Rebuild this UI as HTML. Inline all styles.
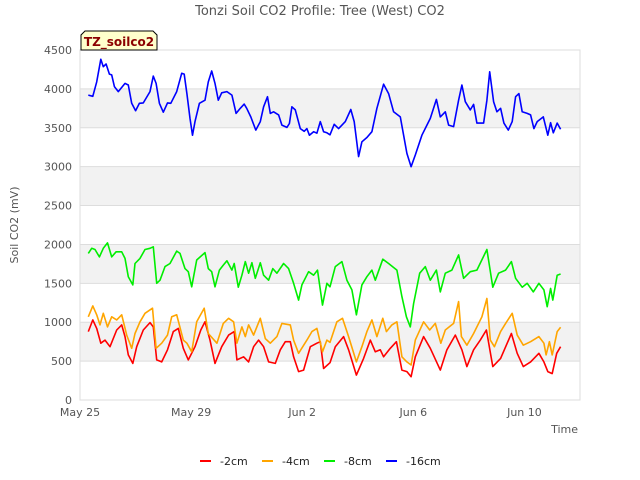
<!DOCTYPE html>
<html><head><meta charset="utf-8"><style>
body{margin:0;background:#fff;}
svg{display:block;font-family:"DejaVu Sans","Liberation Sans",sans-serif;}
</style></head><body>
<svg id="chart" width="640" height="480">
<text x="320" y="15" text-anchor="middle" font-size="13" fill="#555">Tonzi Soil CO2 Profile: Tree (West) CO2</text>
<g id="bands"></g>
<g id="yticks"></g>
<g id="xticks"></g>
<rect x="80" y="50" width="500" height="350" fill="none" stroke="#ddd"/>
<g id="series"></g>
<text transform="translate(18,225) rotate(-90)" text-anchor="middle" font-size="11" fill="#555">Soil CO2 (mV)</text>
<text x="578" y="433" text-anchor="end" font-size="11" fill="#555">Time</text>
<g>
<path d="M85,31 L153,31 L157,35 L157,50 L81,50 L81,35 Z" fill="#ffffcc" stroke="#000" stroke-width="1"/>
<text x="119" y="46" text-anchor="middle" font-size="12" font-weight="bold" fill="#8b0000">TZ_soilco2</text>
</g>
<g id="legend"></g>
</svg>
<script>
const yTicks=[0,500,1000,1500,2000,2500,3000,3500,4000,4500];
const xTickDays=[0,4,8,12,16];
const xTickLabels=["May 25","May 29","Jun 2","Jun 6","Jun 10"];
const seriesNames=["-2cm","-4cm","-8cm","-16cm"];
const seriesColors=["#ff0000","#ffa500","#00ee00","#0000ff"];
const blueDays=[0.3,0.46,0.6,0.75,0.84,0.94,1.06,1.14,1.24,1.38,1.62,1.74,1.86,2.0,2.14,2.28,2.52,2.64,2.74,2.86,3.0,3.15,3.27,3.48,3.66,3.75,3.85,3.96,4.05,4.14,4.3,4.5,4.62,4.74,4.86,4.98,5.1,5.29,5.47,5.62,5.77,5.91,6.0,6.15,6.33,6.49,6.61,6.75,6.85,6.97,7.15,7.27,7.45,7.54,7.63,7.75,7.93,8.07,8.17,8.26,8.41,8.53,8.65,8.77,8.89,9.0,9.15,9.31,9.55,9.75,9.87,10.03,10.15,10.33,10.51,10.69,10.93,11.11,11.29,11.53,11.77,11.92,12.07,12.31,12.61,12.83,12.97,13.15,13.27,13.45,13.63,13.75,13.87,14.05,14.17,14.29,14.53,14.65,14.75,14.89,15.01,15.14,15.26,15.42,15.56,15.68,15.8,15.92,16.1,16.22,16.34,16.46,16.68,16.84,16.94,17.04,17.18,17.3];
const blueVals=[3920,3905,4090,4380,4285,4320,4190,4180,4030,3965,4070,4050,3815,3720,3815,3820,3965,4165,4070,3815,3700,3820,3815,3965,4200,4190,3940,3620,3405,3580,3815,3855,4090,4230,4070,3855,3950,3965,3920,3685,3750,3805,3750,3640,3470,3580,3770,3900,3685,3705,3665,3535,3505,3555,3770,3730,3490,3455,3490,3405,3450,3430,3580,3450,3435,3410,3545,3490,3580,3735,3580,3130,3320,3375,3450,3750,4060,3940,3705,3640,3170,3000,3150,3405,3620,3865,3640,3705,3535,3515,3855,4050,3835,3730,3800,3560,3560,3855,4220,3835,3705,3750,3560,3470,3580,3900,3940,3705,3685,3665,3490,3580,3640,3405,3565,3435,3560,3480];
const greenDays=[0.3,0.42,0.54,0.7,0.84,0.99,1.14,1.3,1.5,1.62,1.74,1.9,1.98,2.16,2.34,2.52,2.64,2.76,2.88,3.06,3.24,3.48,3.6,3.78,3.9,4.02,4.2,4.5,4.62,4.74,4.86,5.02,5.16,5.29,5.47,5.55,5.7,5.83,5.95,6.07,6.19,6.31,6.49,6.61,6.79,6.94,7.09,7.33,7.51,7.69,7.87,7.99,8.23,8.41,8.55,8.73,8.89,9.0,9.19,9.43,9.61,9.79,9.95,10.15,10.33,10.51,10.63,10.9,11.11,11.41,11.59,11.75,11.89,12.01,12.23,12.43,12.61,12.83,12.97,13.15,13.39,13.63,13.81,14.05,14.29,14.65,14.86,15.07,15.32,15.53,15.68,15.92,16.1,16.32,16.52,16.7,16.82,16.94,17.02,17.18,17.3];
const greenVals=[1885,1950,1935,1840,1950,2020,1840,1905,1905,1820,1585,1480,1755,1820,1935,1950,1970,1500,1540,1715,1755,1915,1885,1690,1650,1455,1800,1895,1690,1650,1455,1670,1735,1790,1670,1755,1450,1605,1780,1630,1765,1565,1765,1605,1540,1690,1630,1755,1690,1500,1285,1480,1650,1605,1670,1220,1500,1455,1715,1780,1540,1415,1095,1480,1585,1670,1540,1810,1755,1670,1330,1070,940,1240,1630,1715,1540,1670,1390,1630,1670,1865,1565,1650,1670,1935,1450,1630,1670,1780,1565,1450,1500,1390,1500,1415,1200,1435,1285,1605,1620];
const orangeDays=[0.3,0.46,0.6,0.72,0.84,0.99,1.14,1.32,1.5,1.68,1.86,1.98,2.16,2.34,2.61,2.74,2.94,3.15,3.3,3.48,3.72,3.85,4.02,4.2,4.47,4.62,4.93,5.16,5.35,5.53,5.65,5.83,5.95,6.07,6.25,6.49,6.67,6.85,7.09,7.27,7.57,7.69,7.87,8.17,8.35,8.53,8.73,8.89,9.0,9.25,9.45,9.67,9.95,10.15,10.33,10.51,10.69,10.9,11.03,11.23,11.41,11.59,11.77,11.92,12.07,12.37,12.59,12.79,12.99,13.15,13.45,13.63,13.73,13.93,14.17,14.47,14.65,14.77,14.92,15.14,15.32,15.56,15.74,15.96,16.22,16.52,16.7,16.78,16.9,17.0,17.18,17.3];
const orangeVals=[1070,1210,1095,965,1115,940,1070,1030,1095,835,665,855,1005,1115,1180,665,730,835,1070,1095,770,730,620,1005,1180,855,730,985,1050,1005,730,940,815,965,835,1050,790,730,815,985,965,770,600,770,880,920,620,770,740,1005,1050,815,490,685,880,1030,815,1050,880,965,1005,555,490,450,770,1005,900,985,730,900,985,1265,815,705,855,1070,1305,770,685,880,985,1115,835,705,750,815,730,580,750,580,880,935];
const redDays=[0.3,0.46,0.6,0.75,0.9,1.08,1.32,1.5,1.62,1.74,1.9,2.04,2.28,2.52,2.64,2.76,2.94,3.15,3.36,3.54,3.72,3.9,4.14,4.35,4.5,4.68,4.86,5.1,5.35,5.55,5.65,5.89,6.07,6.25,6.43,6.61,6.79,7.03,7.21,7.39,7.57,7.69,7.87,8.05,8.29,8.53,8.65,8.77,9.0,9.19,9.49,9.67,9.95,10.21,10.45,10.63,10.81,10.93,11.17,11.39,11.59,11.77,11.92,12.07,12.37,12.61,12.97,13.21,13.51,13.75,13.93,14.17,14.41,14.63,14.86,15.14,15.53,15.74,15.96,16.22,16.52,16.7,16.84,17.0,17.16,17.3];
const redVals=[880,1030,920,730,770,685,900,965,815,580,470,685,900,995,940,515,490,645,880,920,665,515,685,900,1005,770,470,685,835,880,515,555,490,685,770,685,490,470,645,750,750,555,365,385,685,730,750,405,480,685,815,645,320,535,770,620,645,555,665,750,385,365,300,555,815,665,385,645,835,645,430,645,770,900,430,535,855,600,430,490,600,490,365,340,600,685];

const X0=80,X1=580,Y0=400,Y1=50,DMAX=18;
function xs(d){return X0+d*(X1-X0)/DMAX;}
function ys(v){return Y0-v*(Y0-Y1)/4500;}
const NS="http://www.w3.org/2000/svg";
function mk(tag,attrs,parent){const e=document.createElementNS(NS,tag);for(const k in attrs)e.setAttribute(k,attrs[k]);parent.appendChild(e);return e;}
const bands=document.getElementById('bands');
for(let i=0;i<yTicks.length-1;i++){
  if(i%2===1){
    const r=mk('rect',{x:X0,y:ys(yTicks[i+1]),width:X1-X0,height:ys(yTicks[i])-ys(yTicks[i+1]),fill:'#f2f2f2'},bands);
    
    
  }
}
const yt=document.getElementById('yticks');
yTicks.forEach(v=>{
  const l=mk('line',{x1:X0,x2:X1,y1:ys(v),y2:ys(v),stroke:'#ddd'},yt);
  
  
  const t=mk('text',{x:72,y:ys(v)+4,'text-anchor':'end','font-size':'11',fill:'#555'},yt);
  t.textContent=v;
  
  
});
const xt=document.getElementById('xticks');
xTickDays.forEach((d,i)=>{
  const t=mk('text',{x:xs(d),y:416,'text-anchor':'middle','font-size':'11',fill:'#555'},xt);
  t.textContent=xTickLabels[i];
  
  
});
const sg=document.getElementById('series');
const allDays=[redDays,orangeDays,greenDays,blueDays];
const allVals=[redVals,orangeVals,greenVals,blueVals];
allDays.forEach((days,i)=>{
  const pts=days.map((d,j)=>xs(d).toFixed(1)+','+ys(allVals[i][j]).toFixed(1)).join(' ');
  const p=mk('polyline',{points:pts,fill:'none',stroke:seriesColors[i],'stroke-width':'1.6','stroke-linejoin':'round'},sg);
  
  
});
const lg=document.getElementById('legend');
seriesNames.forEach((n,i)=>{
  const bx=200+i*62;
  const g=mk('g',{},lg);
  
  
  mk('line',{x1:bx,x2:bx+11,y1:461,y2:461,stroke:seriesColors[i],'stroke-width':'2'},g);
  const t=mk('text',{x:bx+20,y:465,'font-size':'11',fill:'#222'},g);
  t.textContent=n;
});
</script>
</body></html>
